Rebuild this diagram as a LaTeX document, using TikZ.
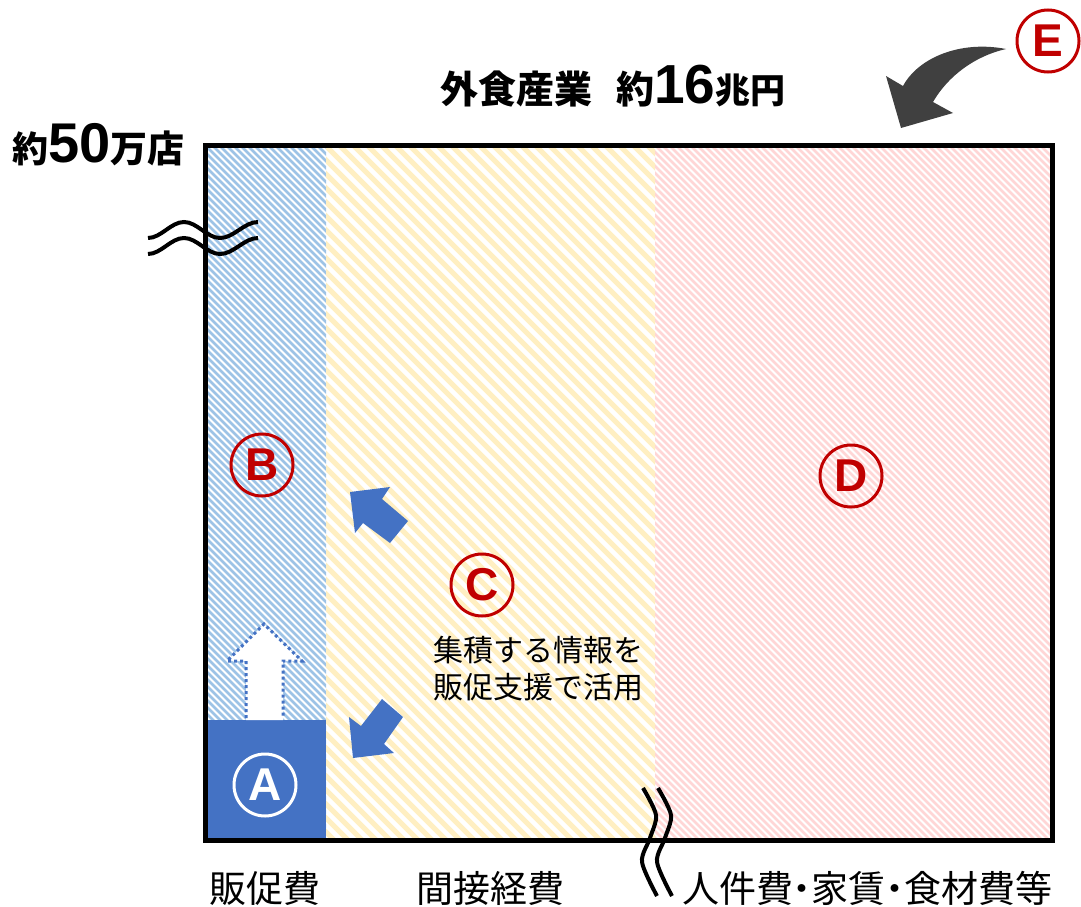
\documentclass[tikz,border=0pt]{standalone}
\usepackage{fontspec}
\setmainfont{Noto Sans CJK JP}
\newfontfamily\jp{Noto Sans CJK JP}
\newfontfamily\arl{Liberation Sans}
\newcommand\fsz[1]{\fontsize{#1}{#1}\selectfont}
\definecolor{ablue}{HTML}{4472C4}
\definecolor{hblue}{HTML}{9DC3E6}
\definecolor{hyellow}{HTML}{FFEFC2}
\definecolor{hpink}{HTML}{FFD6D6}
\definecolor{cred}{HTML}{C00000}
\definecolor{agray}{HTML}{404040}
\tikzset{
  lab/.style={circle, draw=cred, line width=3pt, minimum size=62pt, inner sep=0pt, text=cred, font=\arl\bfseries\fsz{46}},
  txt/.style={inner sep=0pt, anchor=base west},
  wave/.style={line width=4pt, black},
  barrow/.style={fill=ablue, draw=none},
}
\begin{document}
\begin{tikzpicture}[x=1pt,y=-1pt]
\useasboundingbox (0,0) rectangle (1081,907);
% hatches
\begin{scope}
\clip (205,145) rectangle (326,840);
\foreach \c in {-640,-633,...,190} \draw[hblue, line width=2.5pt] (\c+100,100) -- (\c+900,900);
\end{scope}
\begin{scope}
\clip (326,145) rectangle (655,840);
\foreach \c in {-520,-506,...,520} \draw[hyellow, line width=5pt] (\c+100,100) -- (\c+900,900);
\end{scope}
\begin{scope}
\clip (655,145) rectangle (1052,840);
\foreach \c in {-190,-183,...,910} \draw[hpink, line width=2.5pt] (\c+100,100) -- (\c+900,900);
\end{scope}
% A block
\fill[ablue] (205,720) rectangle (326,840);
% dotted up arrow
\fill[white] (246,720) -- (246,661) -- (227,661) -- (264,624) -- (302,661) -- (283,661) -- (283,720) -- cycle;
\draw[ablue, line width=3pt, dash pattern=on 3pt off 3pt] (246,718) -- (246,661) -- (227,661) -- (264,624) -- (302,661) -- (283,661) -- (283,718);
% outer frame
\node[draw, line width=5pt, inner sep=0pt, outer sep=0pt, minimum width=847pt, minimum height=695pt, anchor=north west] (frame) at (205,145) {};
% blue block arrows
\fill[barrow] (350,492) -- (390,487) -- (382,499) -- (408,521) -- (390,543) -- (363,523) -- (355,533) -- cycle;
\fill[barrow] (353,758) -- (349,717) -- (361,726) -- (382,699) -- (403,717) -- (384,744) -- (394,753) -- cycle;
% gray curved arrow
\fill[agray] (1006,49) .. controls (960,40) and (918,58) .. (903,86) -- (886,76) -- (901,128) -- (953,113) -- (933,102) .. controls (948,76) and (975,56) .. (1006,49) -- cycle;
% circled labels
\node[lab, draw=white, text=white] (A) at (265,785) {A};
\node[lab] (B) at (262,465) {B};
\node[lab] (C) at (482,585) {C};
\node[lab] (D) at (851,476) {D};
\node[lab] (E) at (1048,41) {E};
% texts
\node[txt] (title) at (440,103) {\jp\bfseries\fsz{38}外食産業\hspace{24pt}約{\arl\bfseries\fsz{55}16}{\fsz{35}兆円}};
\node[txt] (count) at (12,162) {\jp\bfseries{\fsz{36}約}{\arl\bfseries\fsz{56}50}{\fsz{37}万店}};
\node[txt] (c1) at (433,661) {\jp\fsz{30}集積する情報を};
\node[txt] (c2) at (433,698) {\jp\fsz{30}販促支援で活用};
\node[txt] (l1) at (209,902) {\jp\fsz{37}販促費};
\node[txt] (l2) at (416,902) {\jp\fsz{37}間接経費};
\node[txt] (l3) at (682,902) {\jp\fsz{37}人件費\kern-.25em・\kern-.25em家賃\kern-.25em・\kern-.25em食材費等};
% break waves
\draw[wave] (148,238) cos (166,230) sin (184,222) cos (202,230) sin (220,238) cos (239,230) sin (258,222);
\draw[wave] (148,254) cos (166,246) sin (184,238) cos (202,246) sin (220,254) cos (239,246) sin (258,238);
\draw[wave] plot[smooth] coordinates {(643,788) (656,815) (650,838) (642,862) (657,896)};
\draw[wave] plot[smooth] coordinates {(658,788) (671,815) (665,838) (657,862) (672,896)};
\end{tikzpicture}
\end{document}
